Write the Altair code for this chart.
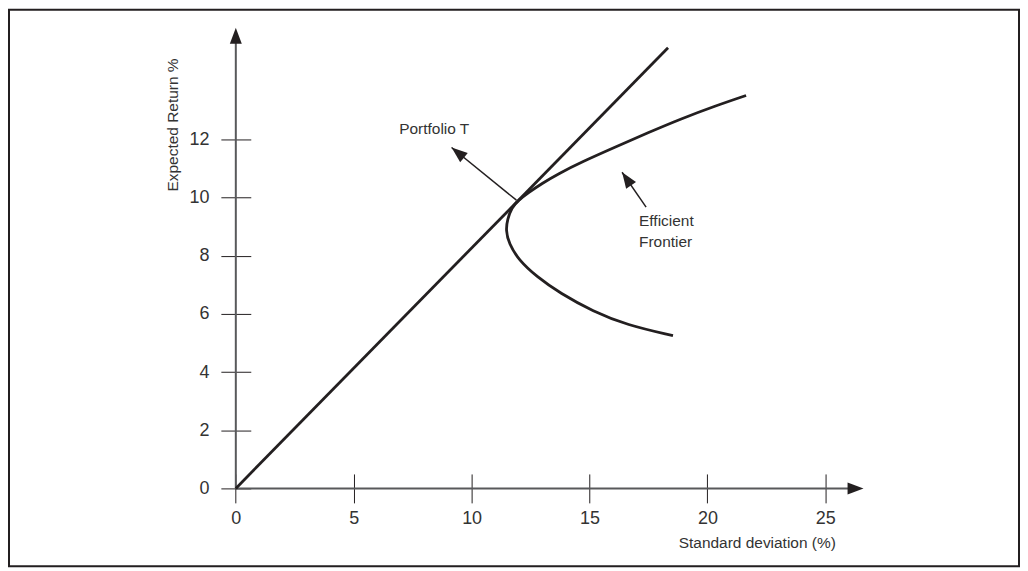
import altair as alt
import pandas as pd

# ---- data ----
x_ticks = [0, 5, 10, 15, 20, 25]
y_ticks = [0, 2, 4, 6, 8, 10, 12]

# capital market line (straight line from origin)
cml_sd = [0.0, 18.33]
cml_ret = [0.0, 15.15]

# efficient frontier (sideways parabola), traced from top end to bottom end
ef_sd = [21.64, 20.30, 18.89, 17.48, 16.08, 14.66, 13.68, 12.97, 12.41, 11.99, 11.70,
         11.52, 11.45, 11.58, 12.00, 12.76, 13.75, 15.16, 16.57, 18.54]
ef_ret = [13.51, 13.14, 12.71, 12.23, 11.73, 11.22, 10.82, 10.48, 10.17, 9.91, 9.66,
          9.25, 8.88, 8.42, 7.85, 7.28, 6.71, 6.08, 5.62, 5.25]

# axis lines (arrowed)
axis_x0 = [0.0, 0.0]
axis_y0 = [0.0, 0.0]
axis_x1 = [0.0, 26.2]
axis_y1 = [15.4, 0.0]

# annotation arrows: start -> tip
ann_x0 = [11.90, 17.40]
ann_y0 = [9.91, 9.67]
ann_x1 = [9.15, 16.38]
ann_y1 = [11.72, 10.87]

# arrow heads (tip positions and pointing angle)
head_x = [0.0, 26.62, 9.15, 16.38]
head_y = [15.84, 0.0, 11.72, 10.87]
head_angle = [0, 90, 309, 325.5]

# annotation labels
lab_text = ["Portfolio T", "Efficient", "Frontier"]
lab_x = [6.93, 17.10, 17.10]
lab_y = [12.34, 9.19, 8.47]

# ---- scales / axes ----
FONT = "Liberation Sans"
INK = "#231f20"
xscale = alt.Scale(domain=[-9.619, 33.214], zero=False, nice=False)
yscale = alt.Scale(domain=[-2.674, 16.455], zero=False, nice=False)

xaxis = alt.Axis(values=x_ticks, grid=False, domain=False, tickColor=INK, tickWidth=1,
                 tickSize=29, offset=-92.5, labelFontSize=18, labelColor="#333333",
                 labelFont=FONT, labelPadding=7, labelFlush=False, labelOverlap=False,
                 title="Standard deviation (%)", titleFont=FONT, titleFontSize=15.5,
                 titleFontWeight="normal", titleColor="#333333", titleX=750, titleY=68.5,
                 titleAlign="center", titleBaseline="middle")
yaxis = alt.Axis(values=y_ticks, grid=False, domain=False, tickColor=INK, tickWidth=1,
                 tickSize=30, offset=-242.5, labelFontSize=18, labelColor="#333333",
                 labelFont=FONT, labelPadding=12, labelFlush=False, labelOverlap=False,
                 title="Expected Return %", titleFont=FONT, titleFontSize=15.5,
                 titleFontWeight="normal", titleColor="#333333", titleX=-78.5, titleY=115,
                 titleAngle=270, titleAlign="center", titleBaseline="middle")


def X(f):
    return alt.X(f, type="quantitative", scale=xscale, axis=xaxis)


def Y(f):
    return alt.Y(f, type="quantitative", scale=yscale, axis=yaxis)


axes_df = pd.DataFrame({"x": axis_x0, "y": axis_y0, "x2": axis_x1, "y2": axis_y1})
cml_df = pd.DataFrame({"x": cml_sd, "y": cml_ret})
ef_df = pd.DataFrame({"x": ef_sd, "y": ef_ret, "i": list(range(len(ef_sd)))})
ann_df = pd.DataFrame({"x": ann_x0, "y": ann_y0, "x2": ann_x1, "y2": ann_y1})
head_df = pd.DataFrame({"x": head_x, "y": head_y, "angle": head_angle})
lab_df = pd.DataFrame({"x": lab_x, "y": lab_y, "t": lab_text})

axis_lines = alt.Chart(axes_df).mark_rule(color="#58595b", strokeWidth=2).encode(
    x=X("x"), y=Y("y"), x2="x2", y2="y2")

cml = alt.Chart(cml_df).mark_line(color=INK, strokeWidth=2.8).encode(x=X("x"), y=Y("y"))

ef = alt.Chart(ef_df).mark_line(color=INK, strokeWidth=2.8, interpolate="basis").encode(
    x=X("x"), y=Y("y"), order="i:Q")

ann = alt.Chart(ann_df).mark_rule(color=INK, strokeWidth=1.5).encode(
    x=X("x"), y=Y("y"), x2="x2", y2="y2")

heads = alt.Chart(head_df).mark_point(
    shape="M0,0L0.75,2L-0.75,2Z", filled=True, fill=INK, opacity=1, size=256, strokeWidth=0
).encode(x=X("x"), y=Y("y"), angle=alt.Angle("angle:Q", scale=None))

labels = alt.Chart(lab_df).mark_text(
    align="left", baseline="middle", font=FONT, fontSize=15.5, color="#333333"
).encode(x=X("x"), y=Y("y"), text="t:N")

chart = alt.layer(axis_lines, cml, ef, ann, heads, labels).properties(
    width=1013, height=558, padding=1, autosize=alt.AutoSizeParams(type="none"),
    background="white"
).configure_view(stroke=INK, strokeWidth=2)

chart.save("out.html", embed_options={"renderer": "svg", "actions": False})
